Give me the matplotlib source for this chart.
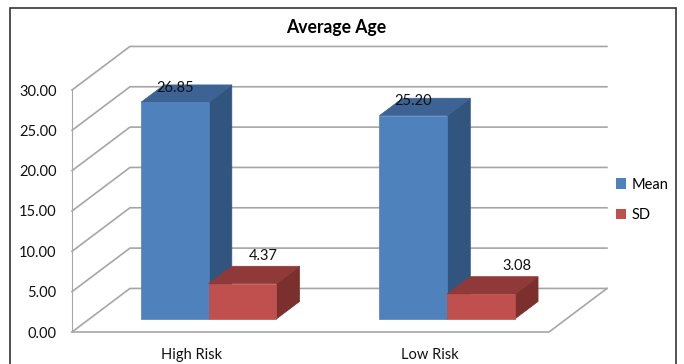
import matplotlib
matplotlib.use('Agg')
import matplotlib.pyplot as plt
from matplotlib.patches import Patch, Polygon, Rectangle

plt.rcParams['font.family'] = ['Lato', 'DejaVu Sans']

categories = ['High Risk', 'Low Risk']
mean_vals = [26.85, 25.20]
sd_vals = [4.37, 3.08]
mean_labels = ['26.85', '25.20']
sd_labels = ['4.37', '3.08']
y_ticks = [0, 5, 10, 15, 20, 25, 30]

# fake 3d: how far one unit of depth moves a point, in data units
depth_x = 0.243
depth_y = 5.4
bar_w = 0.284
front = 0.3
back = 0.7

def proj(x, y, d):
    return (x + d * depth_x, y + d * depth_y)

def bar3d(ax, x, h, c_front, c_top, c_side):
    x2 = x + bar_w
    side = [proj(x2, 0, front), proj(x2, 0, back), proj(x2, h, back), proj(x2, h, front)]
    top = [proj(x, h, front), proj(x2, h, front), proj(x2, h, back), proj(x, h, back)]
    face = [proj(x, 0, front), proj(x2, 0, front), proj(x2, h, front), proj(x, h, front)]
    for pts, c in [(side, c_side), (top, c_top), (face, c_front)]:
        ax.add_patch(Polygon(pts, closed=True, facecolor=c, edgecolor=c, lw=0.5,
                             clip_on=False, zorder=3))

fig = plt.figure(figsize=(6.84, 3.64), dpi=100)
ax = fig.add_axes([72 / 684, 32 / 364, 477 / 684, 242 / 364])
ax.set_xlim(0, 2)
ax.set_ylim(0, 30)
for s in ['top', 'right', 'bottom']:
    ax.spines[s].set_visible(False)
ax.spines['left'].set_color('#a6a6a6')
ax.patch.set_visible(False)

grid_c = '#a6a6a6'
for v in y_ticks:
    x0, y0 = proj(0, v, 1)
    x1, y1 = proj(2, v, 1)
    ax.plot([0, x0, x1], [v, y0, y1], color=grid_c, lw=1.2, clip_on=False, zorder=1)
x0, y0 = proj(2, 0, 1)
ax.plot([0, 2, x0], [0, 0, y0], color=grid_c, lw=1.2, clip_on=False, zorder=2)

xs = [i + 0.5 for i in range(len(categories))]
ax.set_xticks(xs)
ax.set_xticklabels(categories, fontsize=10.5, color='#111111')
ax.set_yticks(y_ticks)
ax.set_yticklabels(['%.2f' % v for v in y_ticks], fontsize=10.5, color='#111111')
ax.tick_params(axis='x', length=0, pad=11.5)
ax.tick_params(axis='y', length=0, pad=11)

sd_offsets = [(15, 15), (26, 15)]
for i, x in enumerate(xs):
    left = x - bar_w
    bar3d(ax, left, mean_vals[i], '#4f81bd', '#3d6394', '#325580')
    bar3d(ax, x, sd_vals[i], '#c0504d', '#8f3a38', '#7b302e')
    px, py = proj(x - bar_w / 2, mean_vals[i], front)
    ax.annotate(mean_labels[i], (px, py), xytext=(0, 5.5), textcoords='offset points',
                ha='center', va='bottom', fontsize=10.5, color='#111111', zorder=5,
                annotation_clip=False)
    px, py = proj(x + bar_w / 2, sd_vals[i], front)
    ax.annotate(sd_labels[i], (px, py), xytext=sd_offsets[i], textcoords='offset points',
                ha='center', va='bottom', fontsize=10.5, color='#111111', zorder=5,
                annotation_clip=False)

fig.text(336 / 684, 1 - 28 / 364, 'Average Age', ha='center', va='center',
         fontsize=12.7, fontweight='bold', color='black')

handles = [Patch(facecolor='#4f81bd', label='Mean'), Patch(facecolor='#c0504d', label='SD')]
fig.legend(handles=handles, loc='center left', bbox_to_anchor=(616 / 684, 1 - 200 / 364),
           frameon=False, fontsize=10.5, handlelength=0.7, handleheight=0.7,
           handletextpad=0.4, labelspacing=1.15, borderpad=0, borderaxespad=0)

# outer chart frame, bottom edge runs off the picture
fig.add_artist(Rectangle((10 / 684, -0.05), 666 / 684, 1.05 - 8 / 364, transform=fig.transFigure,
                         fill=False, edgecolor='#333333', lw=1.2))

fig.savefig('out.png', dpi=100)
